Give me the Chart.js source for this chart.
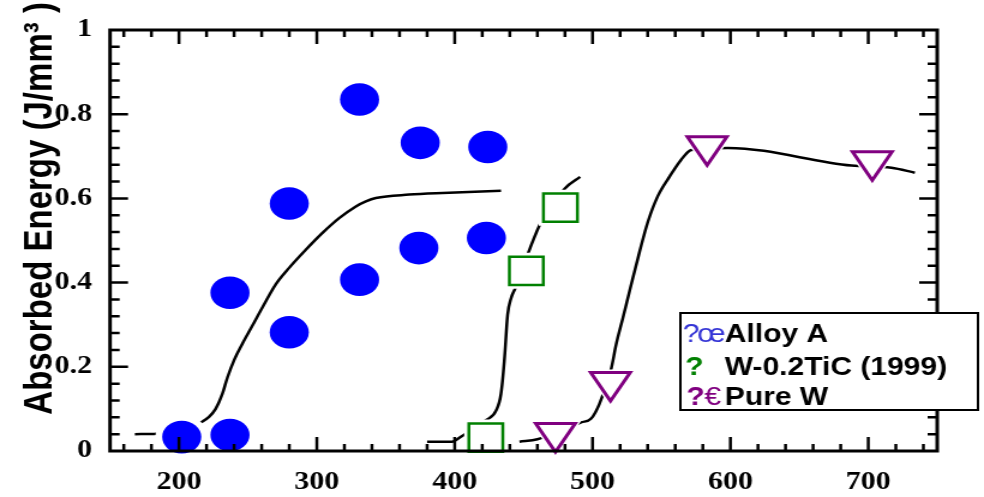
<!DOCTYPE html>
<html>
<head>
<meta charset="utf-8">
<script src="https://cdn.jsdelivr.net/npm/chart.js@4.4.0/dist/chart.umd.min.js"></script>
<style>
  html, body { margin: 0; padding: 0; background: #fff; }
</style>
</head>
<body>
<!-- the original figure is stretched sideways, so the bitmap is drawn narrower and widened by css -->
<canvas id="chart" width="820" height="497" style="display:block;width:984px;height:497px"></canvas>
<script>
// measured points
const alloyTemp   = [202, 237, 237, 280, 280, 331, 331, 374, 375, 423, 424];
const alloyEnergy = [0.033, 0.038, 0.376, 0.282, 0.588, 0.407, 0.835, 0.482, 0.732, 0.506, 0.722];
const ticTemp     = [422.6, 452.0, 476.7];
const ticEnergy   = [0.032, 0.428, 0.578];
const pureTemp    = [473.1, 513.0, 583.1, 702.9];
const pureEnergy  = [0.043, 0.164, 0.724, 0.688];

// fitted curves
const alloyFitTemp   = [168, 184, 200, 216.5, 221.8, 226.6, 231.4, 235.1, 240.0, 246.0, 253.3, 260.5, 270.2, 279.9, 292.0, 304.1, 316.2, 328.3, 335.6, 342.8, 367.0, 391.2, 433.6];
const alloyFitEnergy = [0.040, 0.041, 0.048, 0.069, 0.081, 0.100, 0.135, 0.174, 0.216, 0.255, 0.298, 0.341, 0.396, 0.435, 0.478, 0.518, 0.553, 0.581, 0.593, 0.601, 0.609, 0.613, 0.618];
const ticFitTemp     = [380, 398, 404.5, 422.7, 430.0, 433.6, 436.0, 438.4, 440.9, 444.0, 454.7, 462.7, 480.1, 491.0];
const ticFitEnergy   = [0.022, 0.022, 0.034, 0.073, 0.096, 0.136, 0.214, 0.324, 0.363, 0.387, 0.482, 0.544, 0.624, 0.651];
const pureFitTemp    = [447, 460, 491.7, 499, 505, 513.5, 517.1, 522, 528, 534.1, 540.1, 547.4, 556.1, 564.3, 571.6, 598.2, 687.8, 716.8, 733.8];
const pureFitEnergy  = [0.022, 0.028, 0.068, 0.077, 0.112, 0.195, 0.253, 0.316, 0.395, 0.473, 0.544, 0.606, 0.653, 0.692, 0.715, 0.720, 0.678, 0.673, 0.661];

const seriesNames = ['Alloy A', 'W-0.2TiC (1999)', 'Pure W'];
const xTickLabels = [200, 300, 400, 500, 600, 700];
const yTickLabels = [0, 0.2, 0.4, 0.6, 0.8, 1];

const pts = (xs, ys) => xs.map((x, i) => ({x: x, y: ys[i]}));

function markers(label, data, style, r, fill, stroke, bw, rot) {
  return {
    label: label, data: data, showLine: false, clip: false, order: 0,
    pointStyle: style, pointRadius: r, pointRotation: rot || 0,
    pointBackgroundColor: fill, pointBorderColor: stroke, pointBorderWidth: bw
  };
}
// white patch behind each marker so the fitted line breaks around it
function halo(data, style, r, rot) {
  return {
    data: data, showLine: false, clip: false, order: 1,
    pointStyle: style, pointRadius: r, pointRotation: rot || 0,
    pointBackgroundColor: '#fff', pointBorderColor: '#fff', pointBorderWidth: 0
  };
}
function curve(data) {
  return {
    data: data, showLine: true, pointRadius: 0, borderColor: '#000', borderWidth: 2.5,
    cubicInterpolationMode: 'monotone', order: 2, clip: false
  };
}

const framePlugin = {
  id: 'frame',
  afterDraw(chart) {
    const {ctx, chartArea: a, scales: {x, y}} = chart;
    ctx.save();
    ctx.strokeStyle = '#000';
    ctx.lineWidth = 2.5;
    ctx.beginPath();
    for (let t = 160; t < 750; t += 20) {
      let px = x.getPixelForValue(t);
      let len = t % 100 === 0 ? 14 : 7;
      ctx.moveTo(px, a.bottom); ctx.lineTo(px, a.bottom - len);
      ctx.moveTo(px, a.top); ctx.lineTo(px, a.top + len);
    }
    for (let i = 1; i < 25; i++) {
      let py = y.getPixelForValue(i * 0.04);
      let len = i % 5 === 0 ? 15 : 8;
      ctx.moveTo(a.left, py); ctx.lineTo(a.left + len, py);
      ctx.moveTo(a.right, py); ctx.lineTo(a.right - len, py);
    }
    ctx.stroke();
    ctx.lineWidth = 3;
    ctx.strokeRect(a.left, a.top, a.right - a.left, a.bottom - a.top);

    // legend box, with the broken symbol glyphs of the source
    ctx.fillStyle = '#fff';
    ctx.fillRect(567, 313, 248, 97);
    ctx.lineWidth = 2;
    ctx.strokeRect(567, 313, 248, 97);
    ctx.textAlign = 'left';
    ctx.textBaseline = 'alphabetic';
    const bold = 'bold 25px "Liberation Sans", Arial, sans-serif';
    const norm = '25px "Liberation Sans", Arial, sans-serif';
    ctx.font = norm; ctx.fillStyle = '#3535d6';
    ctx.fillText('?', 569, 342);
    ctx.fillText('\u0153', 581, 342);
    ctx.font = bold; ctx.fillStyle = '#008000';
    ctx.fillText('?', 571, 375);
    ctx.fillStyle = '#800080';
    ctx.fillText('?', 572, 405);
    ctx.font = norm;
    ctx.fillText('\u20ac', 587, 405);
    ctx.font = bold; ctx.fillStyle = '#000';
    ctx.fillText(seriesNames[0], 604, 342);
    ctx.fillText(seriesNames[1], 604, 375);
    ctx.fillText(seriesNames[2], 604, 405);
    ctx.restore();
  }
};

const tickFont = {family: '"Liberation Serif", "Times New Roman", serif', size: 25, weight: 'bold'};

new Chart(document.getElementById('chart'), {
  type: 'scatter',
  data: {
    datasets: [
      markers(seriesNames[0], pts(alloyTemp, alloyEnergy), 'circle', 16.3, '#0000ff', '#0000ff', 0),
      markers(seriesNames[1], pts(ticTemp, ticEnergy), 'rect', 20, '#fff', '#008000', 2.5),
      markers(seriesNames[2], pts(pureTemp, pureEnergy), 'triangle', 19, '#fff', '#800080', 3, 180),
      halo(pts(alloyTemp, alloyEnergy), 'circle', 22),
      halo(pts(ticTemp, ticEnergy), 'rect', 25.5),
      halo(pts(pureTemp, pureEnergy), 'triangle', 25, 180),
      curve(pts(alloyFitTemp, alloyFitEnergy)),
      curve(pts(ticFitTemp, ticFitEnergy)),
      curve(pts(pureFitTemp, pureFitEnergy))
    ]
  },
  options: {
    responsive: false,
    animation: false,
    devicePixelRatio: 1,
    events: [],
    layout: {padding: {top: 26, right: 39, bottom: 0, left: 0}},
    plugins: {legend: {display: false}, tooltip: {enabled: false}},
    scales: {
      x: {
        type: 'linear', min: 150, max: 750,
        grid: {display: false, drawTicks: false},
        border: {display: false},
        afterBuildTicks: s => { s.ticks = xTickLabels.map(v => ({value: v})); },
        afterFit: s => { s.height = 46; },
        ticks: {color: '#000', font: tickFont, padding: 17, maxRotation: 0}
      },
      y: {
        type: 'linear', min: 0, max: 1,
        grid: {display: false, drawTicks: false},
        border: {display: false},
        afterBuildTicks: s => { s.ticks = yTickLabels.map(v => ({value: v})); },
        afterFit: s => { s.width = 91.7; },
        ticks: {color: '#000', font: tickFont, padding: 15, callback: v => String(v)},
        title: {
          display: true,
          text: '       Absorbed Energy (J/mm\u00b3 )',
          color: '#000',
          font: {family: '"Liberation Sans", Arial, sans-serif', size: 33, weight: 'bold'},
          padding: {top: 14.5, bottom: 0}
        }
      }
    }
  },
  plugins: [framePlugin]
});
</script>
</body>
</html>
